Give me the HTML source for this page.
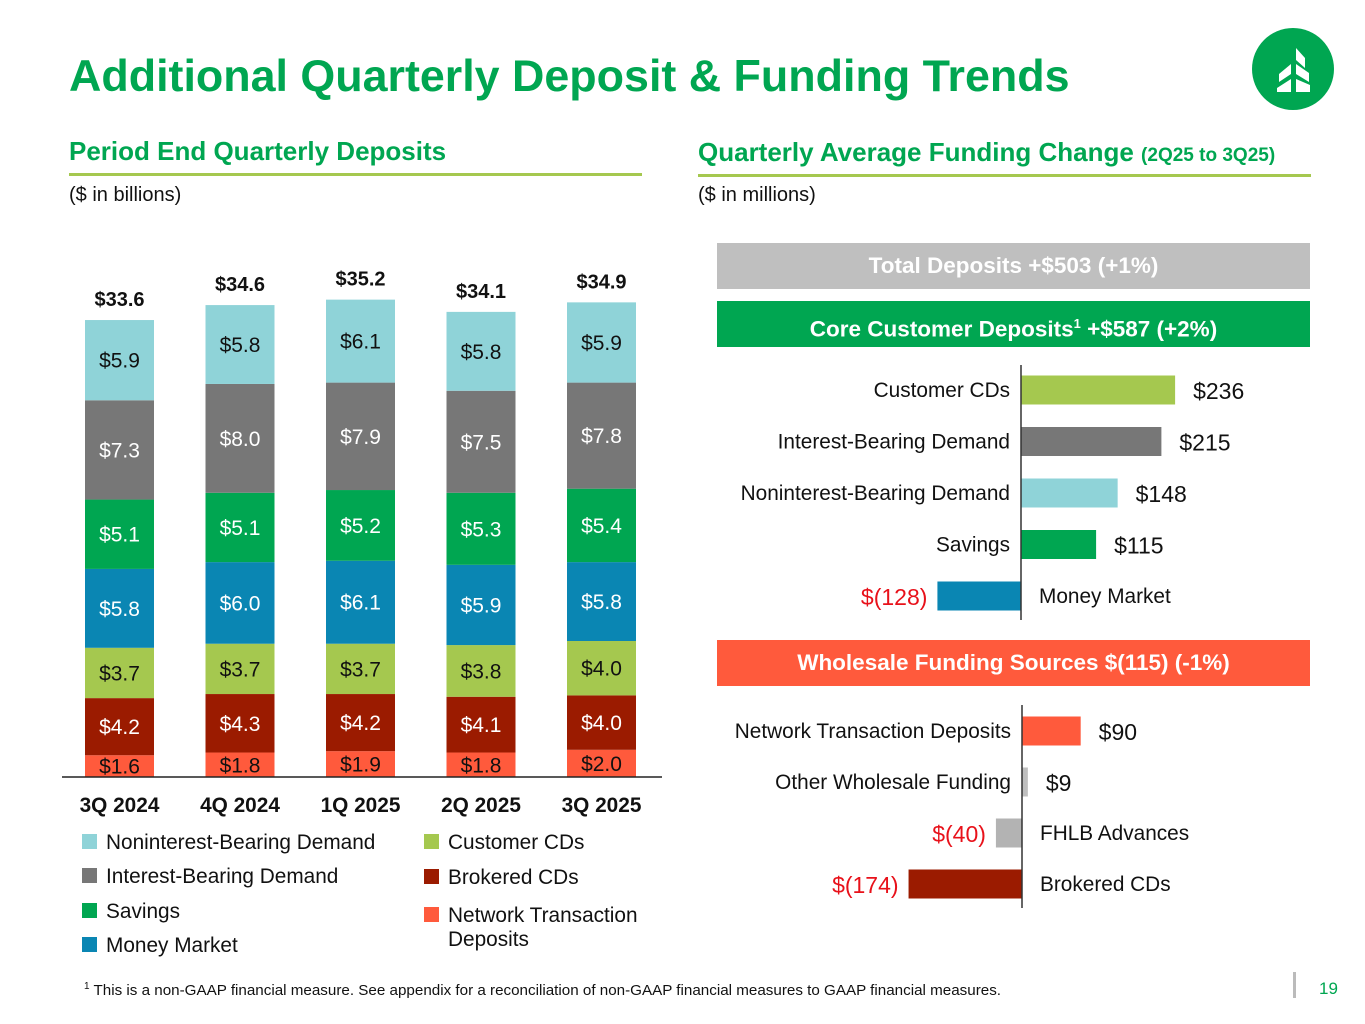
<!DOCTYPE html>
<html><head><meta charset="utf-8"><style>
body{margin:0;width:1365px;height:1024px;background:#fff;font-family:"Liberation Sans",Arial,sans-serif;position:relative;overflow:hidden}
.a{position:absolute;white-space:nowrap}
</style></head><body>
<div class="a" style="left:69px;top:51px;font-size:44.8px;font-weight:bold;color:#00a651">Additional Quarterly Deposit &amp; Funding Trends</div>
<svg class="a" style="left:1252px;top:28px" width="82" height="82" viewBox="0 0 82 82"><circle cx="41" cy="41" r="41" fill="#00a651"/><path d="M44 20 L53 30 L53 40 L44 32Z M44 36 L57 45 L57 54 L44 46Z M44 51 L58 57 L58 64 L44 64Z M39 36 L27 46 L27 54 L39 46Z M39 51 L25 60 L25 64 L39 64Z" fill="#fff"/></svg>

<div class="a" style="left:69px;top:136px;font-size:26px;font-weight:bold;color:#00a651">Period End Quarterly Deposits</div>
<div class="a" style="left:69px;top:173px;width:573px;height:3px;background:#a5c84f"></div>
<div class="a" style="left:69px;top:184px;font-size:20px;color:#111">($ in billions)</div>
<div class="a" style="left:698px;top:137px;font-size:26px;font-weight:bold;color:#00a651">Quarterly Average Funding Change <span style="font-size:19px">(2Q25 to 3Q25)</span></div>
<div class="a" style="left:698px;top:174px;width:613px;height:3px;background:#a5c84f"></div>
<div class="a" style="left:698px;top:184px;font-size:20px;color:#111">($ in millions)</div>

<div class="a" style="left:717px;top:243px;width:593px;height:46px;background:#bfbfbf;color:#fff;font-size:22.5px;font-weight:bold;text-align:center;line-height:46px">Total Deposits +$503 (+1%)</div>
<div class="a" style="left:717px;top:301px;width:593px;height:46px;background:#00a651;color:#fff;font-size:22.5px;font-weight:bold;text-align:center;line-height:46px">Core Customer Deposits<sup style="font-size:13px">1</sup> +$587 (+2%)</div>
<div class="a" style="left:717px;top:640px;width:593px;height:46px;background:#ff5a3c;color:#fff;font-size:22.5px;font-weight:bold;text-align:center;line-height:46px">Wholesale Funding Sources $(115) (-1%)</div>

<svg id="chart" class="a" style="left:0;top:0" width="1365" height="1024"></svg>

<div class="a" style="left:84px;top:981px;font-size:15.2px;color:#111"><sup style="font-size:10px">1</sup> This is a non-GAAP financial measure. See appendix for a reconciliation of non-GAAP financial measures to GAAP financial measures.</div>
<div class="a" style="left:1293px;top:972px;width:3px;height:26px;background:#bbb"></div>
<div class="a" style="left:1319px;top:979px;font-size:17px;color:#00a651">19</div>

<script>
const quarters=["3Q 2024","4Q 2024","1Q 2025","2Q 2025","3Q 2025"];
const totals=["$33.6","$34.6","$35.2","$34.1","$34.9"];
const seriesNames=["Network Transaction Deposits","Brokered CDs","Customer CDs","Money Market","Savings","Interest-Bearing Demand","Noninterest-Bearing Demand"];
const networkTx=[1.6,1.8,1.9,1.8,2.0];
const brokeredCDs=[4.2,4.3,4.2,4.1,4.0];
const customerCDs=[3.7,3.7,3.7,3.8,4.0];
const moneyMarket=[5.8,6.0,6.1,5.9,5.8];
const savings=[5.1,5.1,5.2,5.3,5.4];
const interestDemand=[7.3,8.0,7.9,7.5,7.8];
const nonInterestDemand=[5.9,5.8,6.1,5.8,5.9];
const coreLabels=["Customer CDs","Interest-Bearing Demand","Noninterest-Bearing Demand","Savings","Money Market"];
const coreValues=[236,215,148,115,-128];
const wholesaleLabels=["Network Transaction Deposits","Other Wholesale Funding","FHLB Advances","Brokered CDs"];
const wholesaleValues=[90,9,-40,-174];

const NS="http://www.w3.org/2000/svg";
const svg=document.getElementById('chart');
function mk(t,a,txt){const e=document.createElementNS(NS,t);for(const k in a)e.setAttribute(k,a[k]);if(txt!=null)e.textContent=txt;svg.appendChild(e);return e;}
const stacks=[networkTx,brokeredCDs,customerCDs,moneyMarket,savings,interestDemand,nonInterestDemand];
const colors=["#ff5a3c","#9b1b00","#a5c84f","#0a86b3","#00a651","#777777","#8fd3d8"];
const textCol=["#111","#fff","#111","#fff","#fff","#fff","#111"];
const base=777,k=13.6;
const yS=v=>base-v*k;
const xS=i=>85+i*120.5;
const bw=69;
quarters.forEach((q,i)=>{
  let cum=0;
  stacks.forEach((s,j)=>{
    const y0=yS(cum),y1=yS(cum+s[i]);
    const r=mk('rect',{x:xS(i),y:y1,width:bw,height:y0-y1,fill:colors[j]});
    
    
    const t=mk('text',{x:xS(i)+bw/2,y:(y0+y1)/2+7.5,'text-anchor':'middle','font-size':21,fill:textCol[j]},'$'+s[i].toFixed(1));
    
    
    cum+=s[i];
  });
  const tt=mk('text',{x:xS(i)+bw/2,y:yS(cum)-14,'text-anchor':'middle','font-size':20,'font-weight':'bold',fill:'#111'},totals[i]);
  
  
  const ql=mk('text',{x:xS(i)+bw/2,y:812,'text-anchor':'middle','font-size':20.8,'font-weight':'bold',fill:'#111'},q);
  
  
});
const ax=mk('line',{x1:62,x2:662,y1:base,y2:base,stroke:'#222','stroke-width':1.5});



const legOrder=[[6,82,842],[5,82,876],[4,82,911],[3,82,945],[2,424,842],[1,424,877]];
legOrder.forEach(([j,x,y])=>{
  const r=mk('rect',{x:x,y:y-8,width:15,height:15,fill:colors[j]});
  
  
  const t=mk('text',{x:x+24,y:y+7,'font-size':20.8,fill:'#111'},seriesNames[j]);
  
  
});
{
  const r=mk('rect',{x:424,y:907,width:15,height:15,fill:colors[0]});
  
  
  const t=mk('text',{x:448,y:922,'font-size':20.8,fill:'#111'},'Network Transaction');
  
  
  const t2=mk('text',{x:448,y:946,'font-size':20.8,fill:'#111'},'Deposits');
  
  
}

function hbar(labels,vals,cols,axisX,y0,step,axTop,axBot,sc){
  const xs=v=>axisX+v*sc;
  labels.forEach((l,i)=>{
    const cy=y0+i*step,v=vals[i];
    const x1=Math.min(xs(0),xs(v)),w=Math.abs(xs(v)-xs(0));
    const r=mk('rect',{x:x1,y:cy-14.5,width:w,height:29,fill:cols[i]});
    
    
    const vt=v<0?'$('+(-v)+')':'$'+v;
    let lab,val;
    if(v>=0){
      lab=mk('text',{x:axisX-11,y:cy+7,'text-anchor':'end','font-size':20.8,fill:'#111'},l);
      val=mk('text',{x:xs(v)+18,y:cy+9,'font-size':23,fill:'#111'},vt);
    }else{
      lab=mk('text',{x:axisX+18,y:cy+7,'font-size':20.8,fill:'#111'},l);
      val=mk('text',{x:xs(v)-10,y:cy+9,'text-anchor':'end','font-size':23,fill:'#e8111a'},vt);
    }
    
    
    
    
  });
  const a=mk('line',{x1:axisX,x2:axisX,y1:axTop,y2:axBot,stroke:'#333','stroke-width':1.5});
  
  
}
hbar(coreLabels,coreValues,["#a5c84f","#777777","#8fd3d8","#00a651","#0a86b3"],1021,390,51.5,365,620,0.653);
hbar(wholesaleLabels,wholesaleValues,["#ff5a3c","#bfbfbf","#b3b3b3","#9b1b00"],1022,731,51,705,908,0.652);
</script>
</body></html>
